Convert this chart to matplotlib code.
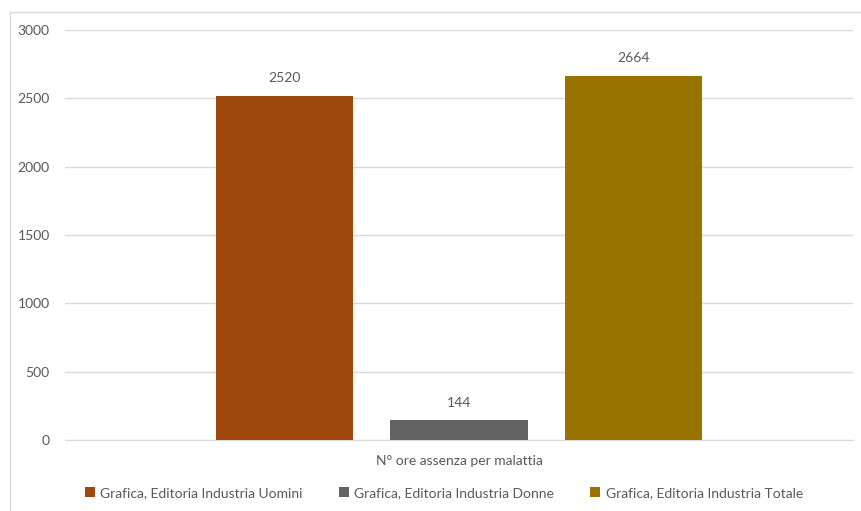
import matplotlib.pyplot as plt
from matplotlib.patches import Rectangle

categoria = "N° ore assenza per malattia"
serie = ["Grafica, Editoria Industria Uomini",
         "Grafica, Editoria Industria Donne",
         "Grafica, Editoria Industria Totale"]
valori = [2520, 144, 2664]
colori = ["#9E480E", "#636363", "#997300"]

plt.rcParams['font.family'] = ['Lato', 'DejaVu Sans']
grigio = "#595959"

fig = plt.figure(figsize=(8.62, 5.11), dpi=100)
# cornice del grafico (tagliata a destra e in basso come nell'originale)
fig.patches.append(Rectangle((10 / 862, -0.1), 1.2, 1.1 - 12 / 511, transform=fig.transFigure,
                             fill=False, edgecolor="#D9D9D9", linewidth=1.0))

ax = fig.add_axes([65 / 862, 1 - 440 / 511, (853 - 65) / 862, (440 - 30) / 511])

larghezza = 0.174
passo = 0.222
for i, (nome, v, c) in enumerate(zip(serie, valori, colori)):
    x = (i - 1) * passo
    ax.bar(x, v, width=larghezza, color=c, label=nome, zorder=3)
    ax.text(x, v + 85, str(v), ha="center", va="bottom", fontsize=10, color=grigio)

ax.set_xlim(-0.5, 0.5)
ax.set_ylim(0, 3000)
ax.set_yticks(range(0, 3001, 500))
ax.yaxis.grid(True, color="#D9D9D9", linewidth=1.0, zorder=0)
ax.tick_params(axis="y", length=0, pad=11, labelsize=10, labelcolor=grigio)
ax.set_xticks([0])
ax.set_xticklabels([categoria])
ax.tick_params(axis="x", length=0, pad=11, labelsize=10, labelcolor=grigio)
for s in ["top", "right", "left"]:
    ax.spines[s].set_visible(False)
ax.spines["bottom"].set_color("#D9D9D9")

leg = fig.legend(loc="center", bbox_to_anchor=(0.515, 1 - 493 / 511), ncol=3, frameon=False,
                 fontsize=10, handlelength=0.7, handleheight=0.7, handletextpad=0.4, columnspacing=2.6)
for t in leg.get_texts():
    t.set_color(grigio)

fig.savefig("out.png", dpi=100)
